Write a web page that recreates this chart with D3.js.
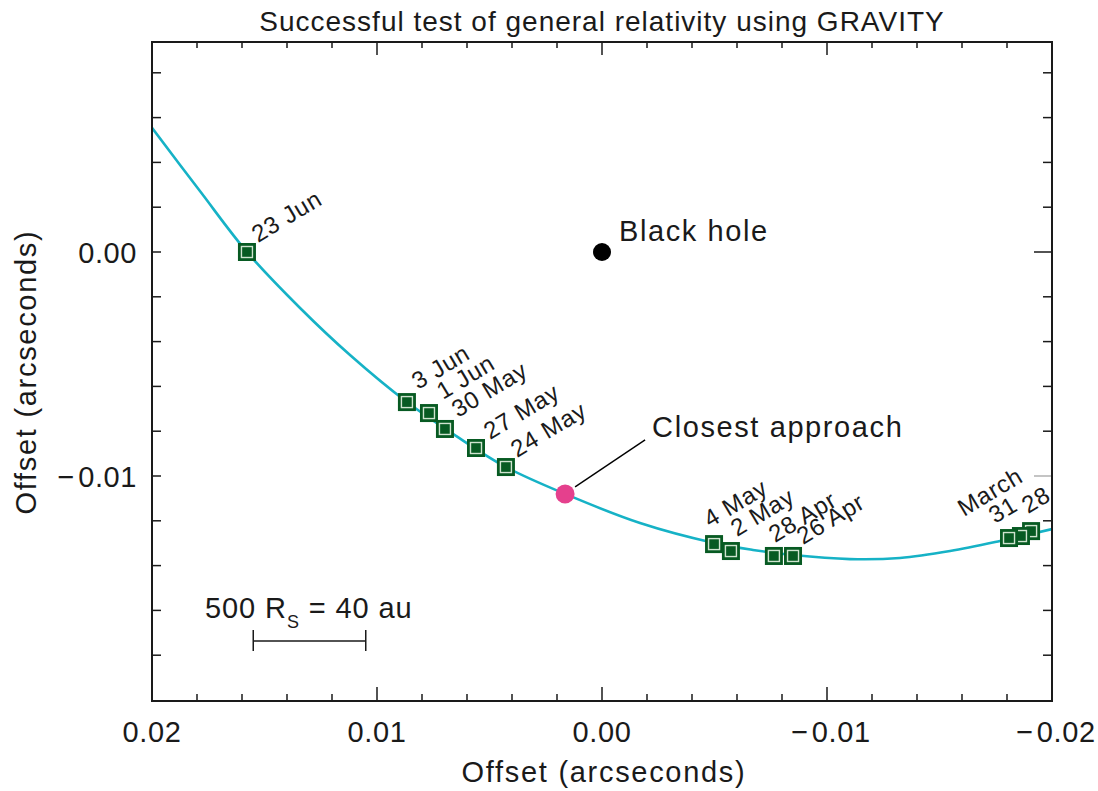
<!DOCTYPE html>
<html>
<head>
<meta charset="utf-8">
<script src="https://cdn.jsdelivr.net/npm/d3@7"></script>
<style>
  html, body { margin: 0; padding: 0; background: #fff; }
  svg { display: block; font-family: "Liberation Sans", Arial, sans-serif; }
</style>
</head>
<body>
<svg id="chart" width="1098" height="791"></svg>
<script>
// ---- Data (arcseconds) ----
const orbitX = [0.0200, 0.01787, 0.01578, 0.01342, 0.01120, 0.00867, 0.00649, 0.00427, 0.00164, -0.00169, -0.00498, -0.00671, -0.00849, -0.01102, -0.01324, -0.01547, -0.01769, -0.0200];
const orbitY = [0.00554, 0.00272, 0.0000, -0.00250, -0.00460, -0.00670, -0.00821, -0.00960, -0.01080, -0.01210, -0.01299, -0.01330, -0.01353, -0.01371, -0.01366, -0.01335, -0.01290, -0.01237];

const obsLabels = ["23 Jun", "3 Jun", "1 Jun", "30 May", "27 May", "24 May", "4 May", "2 May", "28 Apr", "26 Apr", "28", "", "31"];
const obsX = [0.01578, 0.00867, 0.00769, 0.00698, 0.00560, 0.00427, -0.00498, -0.00573, -0.00764, -0.00849, -0.01907, -0.01862, -0.01809];
const obsY = [0.0000, -0.00670, -0.00719, -0.00790, -0.00875, -0.00960, -0.01304, -0.01335, -0.01357, -0.01357, -0.01246, -0.01268, -0.01277];

const blackHole = [0.0, 0.0];
const closest = [0.00164, -0.01080];
const scaleBar = [0.0155, 0.0105]; // 500 Rs = 40 au

const xTickLabels = ["0.02", "0.01", "0.00", "\u2212\u200A0.01", "\u2212\u200A0.02"];
const xTickValues = [0.02, 0.01, 0.0, -0.01, -0.02];
const yTickLabels = ["0.00", "\u2212\u200A0.01"];
const yTickValues = [0.0, -0.01];

// ---- Layout ----
const labelOffsets = {
  "23 Jun": [11, -9], "3 Jun": [11, -12], "1 Jun": [14, -13], "30 May": [13, -11],
  "27 May": [14, -8], "24 May": [11, -9], "4 May": [-4, -16], "2 May": [6, -14],
  "28 Apr": [1, -13], "26 Apr": [10, -11], "31": [-14, -14], "28": [-3, -17]
};

const svg = d3.select("#chart");
const L = 152, R = 1052, T = 42, B = 700;
const x = d3.scaleLinear().domain([0.02, -0.02]).range([L, R]);
const y = d3.scaleLinear().domain([-0.02, 0.009375]).range([B, T]);

const ink = "#1a1a1a";

// title
svg.append("text").attr("x", 602).attr("y", 31).attr("text-anchor", "middle")
  .attr("font-size", 28).attr("letter-spacing", "1px").attr("fill", ink)
  .text("Successful test of general relativity using GRAVITY");

// clip
svg.append("defs").append("clipPath").attr("id", "clip")
  .append("rect").attr("x", L).attr("y", T).attr("width", R - L).attr("height", B - T + 1);

// ticks
const minorX = d3.range(-10, 11).map(i => i * 0.002);
const gT = svg.append("g").attr("stroke", ink).attr("stroke-width", 1.5);
minorX.forEach(v => {
  const major = Math.abs(Math.round(v * 1000) % 10) === 0;
  const len = major ? 13 : 6;
  const px = x(v);
  if (px <= L + 1 || px >= R - 1) return;
  gT.append("line").attr("x1", px).attr("x2", px).attr("y1", B).attr("y2", B - len);
  gT.append("line").attr("x1", px).attr("x2", px).attr("y1", T).attr("y2", T + len);
});
const minorY = d3.range(-10, 5).map(i => i * 0.002);
minorY.forEach(v => {
  const py = y(v);
  if (py <= T + 1 || py >= B - 1) return;
  const major = Math.abs(Math.round(v * 1000) % 10) === 0;
  gT.append("line").attr("x1", L).attr("x2", L + 9).attr("y1", py).attr("y2", py);
  const rl = major ? 18 : 9;
  gT.append("line").attr("x1", R).attr("x2", R - rl).attr("y1", py).attr("y2", py)
    .attr("stroke", (major && v < 0) ? "#b0b0b0" : ink);
});

// tick labels
svg.append("g").selectAll("text").data(xTickValues).join("text")
  .attr("x", d => x(d) + (d < 0 ? 4 : 0)).attr("y", 742).attr("text-anchor", "middle")
  .attr("font-size", 29).attr("letter-spacing", "0.6px").attr("fill", ink)
  .text((d, i) => xTickLabels[i]);
svg.append("g").selectAll("text").data(yTickValues).join("text")
  .attr("x", 137).attr("y", d => y(d) + 11).attr("text-anchor", "end")
  .attr("font-size", 29).attr("letter-spacing", "0.6px").attr("fill", ink)
  .text((d, i) => yTickLabels[i]);

// axis titles
svg.append("text").attr("x", 604).attr("y", 782).attr("text-anchor", "middle")
  .attr("font-size", 29).attr("letter-spacing", "1.7px").attr("fill", ink)
  .text("Offset (arcseconds)");
svg.append("text").attr("transform", "translate(36,372) rotate(-90)").attr("text-anchor", "middle")
  .attr("font-size", 29).attr("letter-spacing", "1.7px").attr("fill", ink)
  .text("Offset (arcseconds)");

// orbit curve
const orbit = orbitX.map((v, i) => [v, orbitY[i]]);
svg.append("path").attr("clip-path", "url(#clip)")
  .attr("d", d3.line().x(d => x(d[0])).y(d => y(d[1])).curve(d3.curveCatmullRom.alpha(0.5))(orbit))
  .attr("fill", "none").attr("stroke", "#16b2c6").attr("stroke-width", 2.6);

// black hole
svg.append("circle").attr("cx", x(blackHole[0])).attr("cy", y(blackHole[1])).attr("r", 9).attr("fill", "#000");
svg.append("text").attr("x", x(blackHole[0]) + 17).attr("y", y(blackHole[1]) - 11)
  .attr("font-size", 29).attr("letter-spacing", "1.6px").attr("fill", ink).text("Black hole");

// closest approach
const cx = x(closest[0]), cy = y(closest[1]);
svg.append("line").attr("x1", cx + 10).attr("y1", cy - 7).attr("x2", cx + 80).attr("y2", cy - 54)
  .attr("stroke", "#000").attr("stroke-width", 1.4);
svg.append("circle").attr("cx", cx).attr("cy", cy).attr("r", 9.5).attr("fill", "#e5408d");
svg.append("text").attr("x", cx + 87).attr("y", cy - 57)
  .attr("font-size", 29).attr("letter-spacing", "1.6px").attr("fill", ink).text("Closest approach");

// observation markers
const gM = svg.append("g");
obsX.forEach((v, i) => {
  const px = x(v), py = y(obsY[i]);
  gM.append("rect").attr("x", px - 9).attr("y", py - 9).attr("width", 18).attr("height", 18)
    .attr("fill", "#075a22");
  gM.append("rect").attr("x", px - 5.5).attr("y", py - 5.5).attr("width", 11).attr("height", 11)
    .attr("fill", "#075a22").attr("stroke", "#cfe3cf").attr("stroke-width", 1.4);
});

// date labels
const gL = svg.append("g");
obsX.forEach((v, i) => {
  const lab = obsLabels[i];
  if (!lab) return;
  const off = labelOffsets[lab];
  const px = x(v) + off[0], py = y(obsY[i]) + off[1];
  gL.append("text").attr("transform", `translate(${px},${py}) rotate(-31)`)
    .attr("font-size", 24).attr("letter-spacing", "0.8px").attr("fill", ink).text(lab);
});
gL.append("text").attr("transform", `translate(${x(-0.01609)},${y(-0.01183)}) rotate(-31)`)
  .attr("font-size", 24).attr("letter-spacing", "0.8px").attr("fill", ink).text("March");

// scale bar
const sb = svg.append("g").attr("stroke", ink).attr("stroke-width", 1.5);
const sx1 = x(scaleBar[0]), sx2 = x(scaleBar[1]);
sb.append("line").attr("x1", sx1).attr("x2", sx2).attr("y1", 641).attr("y2", 641);
sb.append("line").attr("x1", sx1).attr("x2", sx1).attr("y1", 630).attr("y2", 651);
sb.append("line").attr("x1", sx2).attr("x2", sx2).attr("y1", 630).attr("y2", 651);
const st = svg.append("text").attr("x", 205).attr("y", 618)
  .attr("font-size", 29).attr("letter-spacing", "0.9px").attr("fill", ink);
st.append("tspan").text("500 R");
st.append("tspan").attr("font-size", 18).attr("dy", 10).text("S");
st.append("tspan").attr("dy", -10).text(" = 40 au");

// frame
svg.append("rect").attr("x", L).attr("y", T).attr("width", R - L).attr("height", B - T + 1)
  .attr("fill", "none").attr("stroke", ink).attr("stroke-width", 2);
</script>
</body>
</html>
